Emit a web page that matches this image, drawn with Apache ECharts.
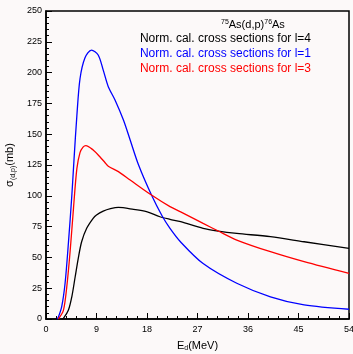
<!DOCTYPE html>
<html><head><meta charset="utf-8">
<script src="https://cdn.jsdelivr.net/npm/echarts@6/dist/echarts.min.js"></script>
<style>html,body{margin:0;padding:0;background:#fcf9f9}#c{width:353px;height:354px}</style>
</head><body><div id="c"></div>
<script>
var xTicks = [0, 9, 18, 27, 36, 45, 54];
var yTicks = [0, 25, 50, 75, 100, 125, 150, 175, 200, 225, 250];
var seriesNames = ['Norm. cal. cross sections for l=4', 'Norm. cal. cross sections for l=1', 'Norm. cal. cross sections for l=3'];
var l4 = [[2.8,0],[3.1,0.5],[4.0,7.3],[4.6,18],[5.2,34.3],[5.75,49.3],[6.35,62.7],[7.25,73.6],[8.4,81.7],[9.0,84.4],[10.2,87.5],[11.5,89.5],[12.9,90.6],[15.6,89],[17.9,87.1],[20.3,83],[22.1,80.9],[24,79],[28,73.6],[30.7,71.4],[34,69.5],[40,66.8],[46,62.7],[54,57.3]];
var l1 = [[2.0,0],[2.2,1.4],[2.8,10],[3.4,29],[4.0,62],[4.6,100],[5.0,130],[5.5,165],[6.06,195],[6.95,212],[8.1,218.3],[9.3,214.3],[10.2,202],[11.1,188.6],[12.3,177.8],[13.8,161.5],[15,145.3],[16.5,125],[18.8,100.6],[20.7,83.6],[22.1,73.6],[24,62.5],[28,45],[34,29],[40,18],[46,11.4],[54,7.9]];
var l3 = [[2.2,0],[3.1,7],[3.7,26],[4.3,55],[4.9,90],[5.5,122],[6.06,135],[6.6,139.5],[7.1,140.7],[8.4,137.2],[9.6,131.7],[10.5,127],[11.1,124],[12.9,119.6],[15,112.8],[18.8,100.6],[22.1,91.2],[24,87],[28,77.6],[30.7,71.4],[34,64.1],[40,54.6],[46,46.5],[54,37]];
var colors = ['#000000', '#0000ff', '#ff0000'];
var allData = [l4, l1, l3];

var chart = echarts.init(document.getElementById('c'));
var FONT = 'Liberation Sans';
chart.setOption({
  backgroundColor: '#fcf9f9',
  animation: false,
  textStyle: {fontFamily: FONT},
  title: {
    text: '{sup|75}{n|As(d,p)}{sup|76}{n|As}',
    left: 216, top: 14,
    textStyle: {fontWeight: 'normal', rich: {
      sup: {fontSize: 7, fontFamily: FONT, fontWeight: 'normal', color: '#000', verticalAlign: 'top', padding: [0,0,5,0]},
      n: {fontSize: 11, fontFamily: FONT, fontWeight: 'normal', color: '#000'}
    }}
  },
  legend: {
    orient: 'vertical', right: 37, top: 28, itemGap: 3, itemWidth: 0, itemHeight: 12,
    icon: 'none', align: 'left',
    data: seriesNames.map(function(n, i){ return {name: n, icon: 'none', textStyle: {color: colors[i], fontSize: 12, fontFamily: FONT}}; })
  },
  grid: {left: 46, right: 4, top: 11, bottom: 35, outerBoundsMode: 'none', containLabel: false, show: true, borderColor: '#000', borderWidth: 1.5, backgroundColor: 'transparent'},
  xAxis: {
    type: 'value', min: xTicks[0], max: xTicks[xTicks.length-1], interval: 9,
    name: 'E{sub|d}(MeV)', nameLocation: 'middle', nameGap: 20,
    nameTextStyle: {fontSize: 11, color: '#000', fontFamily: FONT, rich: {sub: {fontSize: 7, verticalAlign: 'bottom', padding: [6,0,0,0]}}},
    axisLine: {lineStyle: {color: '#000', width: 1.5}},
    axisTick: {inside: true, length: 6, lineStyle: {color: '#000'}},
    minorTick: {show: true, splitNumber: 5, length: 3, lineStyle: {color: '#000'}},
    splitLine: {show: false},
    axisLabel: {fontSize: 9, color: '#000', margin: 6, fontFamily: FONT}
  },
  yAxis: {
    type: 'value', min: yTicks[0], max: yTicks[yTicks.length-1], interval: 25,
    name: '{s|σ}{sub|(d,p)}{s|(mb)}', nameLocation: 'middle', nameGap: 27,
    nameTextStyle: {color: '#000', fontFamily: FONT, rich: {s: {fontSize: 11}, sub: {fontSize: 7, verticalAlign: 'bottom', padding: [6,0,0,0]}}},
    axisLine: {lineStyle: {color: '#000', width: 1.5}},
    axisTick: {inside: true, length: 6, lineStyle: {color: '#000'}},
    minorTick: {show: true, splitNumber: 5, length: 3, lineStyle: {color: '#000'}},
    splitLine: {show: false},
    axisLabel: {fontSize: 9, color: '#000', margin: 4, fontFamily: FONT}
  },
  series: seriesNames.map(function(n, i){
    return {name: n, type: 'line', data: allData[i], smooth: 0.3, showSymbol: false,
      lineStyle: {color: colors[i], width: 1.3}, itemStyle: {color: colors[i]}};
  })
});
</script></body></html>
